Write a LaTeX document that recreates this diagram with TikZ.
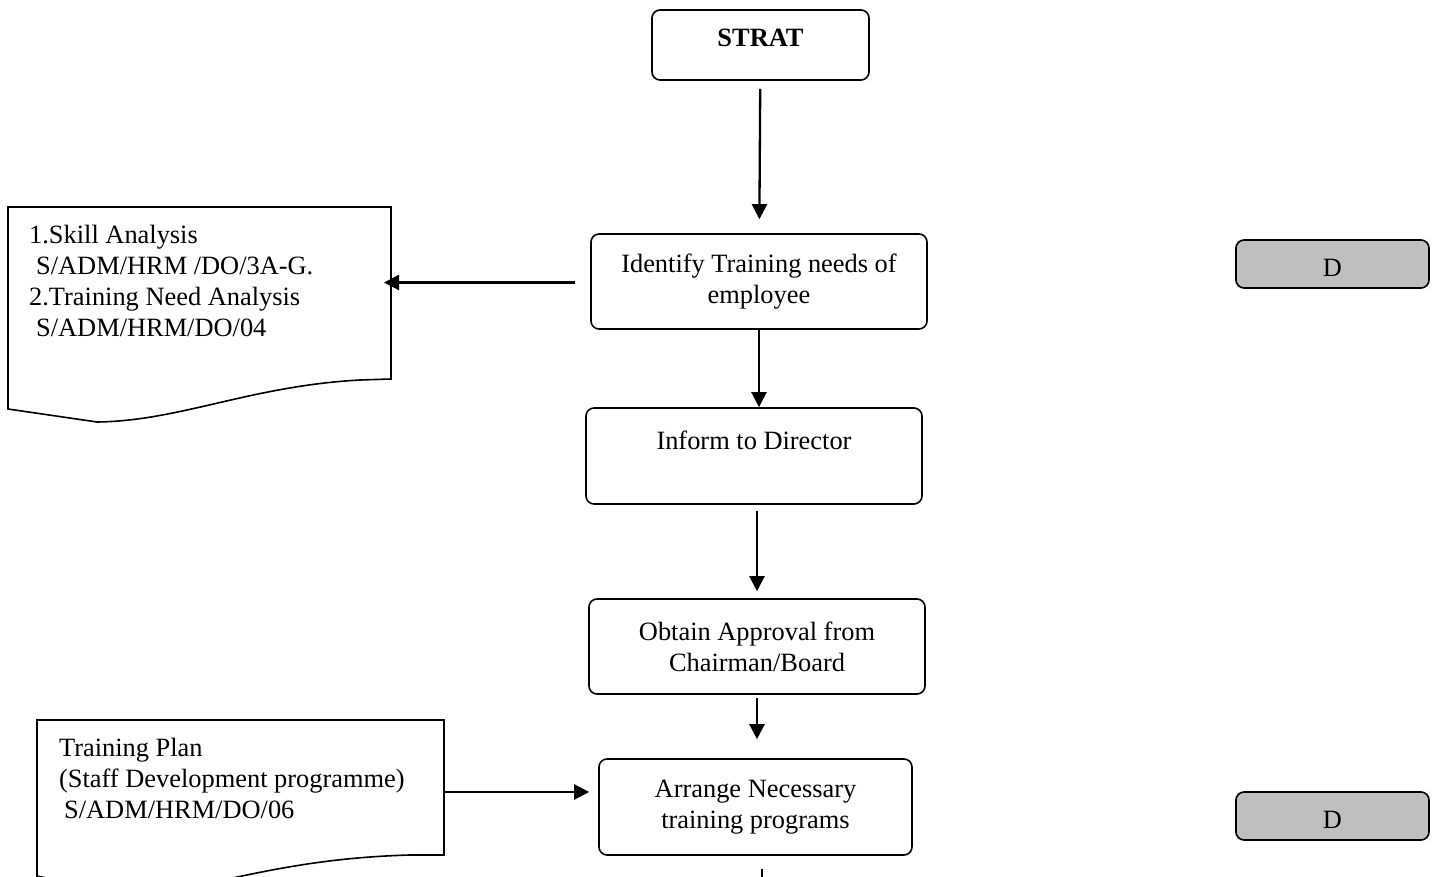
\documentclass[tikz,border=0pt]{standalone}
\usepackage{fontspec}
\setmainfont{Liberation Serif}
\usetikzlibrary{positioning}
\usetikzlibrary{arrows.meta}

\tikzset{
  stepbox/.style={draw, rounded corners=4pt, line width=0.8pt, align=center,
    minimum width=168pt, minimum height=47.5pt, inner sep=2pt},
  dbox/.style={draw, fill=black!25, rounded corners=4pt, line width=0.8pt,
    minimum width=96.5pt, minimum height=24pt, text height=12.5pt},
  docline/.style={draw, line width=0.8pt},
  doctext/.style={align=left, inner sep=0pt, anchor=north west}
}

\begin{document}
\begin{tikzpicture}[x=0.5pt,y=-0.5pt,>={Triangle[length=7.5pt,width=7.5pt]},
    line width=1.15pt,font=\fontsize{13.2}{15.5}\selectfont]
  \useasboundingbox (0,0) rectangle (1437,877);

  % main steps
  \node[stepbox, minimum width=108.5pt, minimum height=35pt, text depth=7.5pt,
    font=\fontsize{13.2}{15.5}\selectfont\bfseries] (start) at (760.5,45) {STRAT};
  \node[stepbox] (identify) at (759,281.5) {Identify Training needs of\\employee};
  \node[stepbox, minimum height=48pt, text depth=16pt] (inform) at (754,456) {Inform to Director};
  \node[stepbox] (obtain) at (757,646.5) {Obtain Approval from\\Chairman/Board};
  \node[stepbox, minimum width=156.5pt, minimum height=48pt] (arrange) at (755.5,807)
    {Arrange Necessary\\training programs};

  % D marks
  \node[dbox] (d1) at (1332.5,264) {D};
  \node[dbox] (d2) at (1332.5,816) {D};

  % documents
  \node[doctext] (skill) at (28,224) {1.Skill Analysis\\\hspace{3.5pt}S/ADM/HRM /DO/3A-G.\\2.Training Need Analysis\\\hspace{3.5pt}S/ADM/HRM/DO/04};
  \draw[docline] (8,207) -- (391,207) -- (391,379) -- (360,380)
    .. controls (250,386) and (180,421) .. (97,422) -- (8,409) -- cycle;
  \coordinate (skillin) at (391,282.5);

  \node[doctext] (plan) at (58,737) {Training Plan\\(Staff Development programme)\\\hspace{2.5pt}S/ADM/HRM/DO/06};
  \draw[docline] (37,900) -- (37,720) -- (444,720) -- (444,855) -- (410,855)
    .. controls (340,857) and (290,866) .. (242,876)
    .. controls (180,890) and (100,890) .. (37,876);
  \coordinate (planout) at (444,792);
  \coordinate (next) at (762,900);

  \path[->] (start) edge[shorten <=4pt, shorten >=7pt] (identify)
    (identify.west |- skillin) edge[shorten <=7.5pt, shorten >=-3.5pt] (skillin)
    (identify.south) edge (identify.south |- inform.north)
    (obtain.north |- inform.south) edge[shorten <=3pt, shorten >=3.5pt] (obtain.north)
    (obtain.south) edge[shorten <=1.5pt, shorten >=9.5pt] (obtain.south |- arrange.north)
    (planout) edge[shorten >=4.5pt] (planout -| arrange.west)
    (arrange.south -| next) edge[-, shorten <=6.5pt] (next);
\end{tikzpicture}
\end{document}
